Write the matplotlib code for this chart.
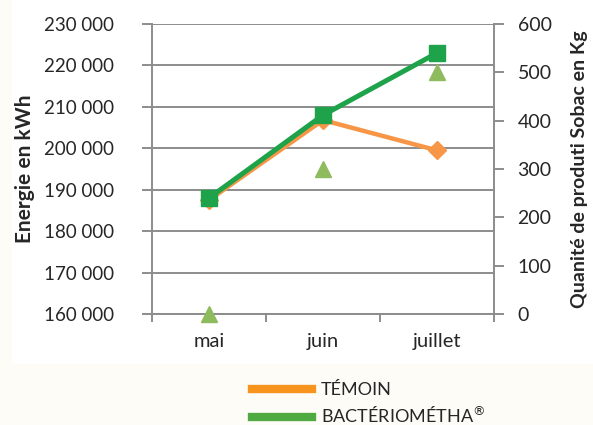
import matplotlib
matplotlib.use("Agg")
import matplotlib.pyplot as plt
from matplotlib.lines import Line2D
from matplotlib.patches import Rectangle
from matplotlib.ticker import FuncFormatter, FixedLocator

plt.rcParams['font.family'] = ['Lato', 'DejaVu Sans']

months = ["mai", "juin", "juillet"]
temoin = [187500, 206800, 199500]
bacterio = [188000, 208000, 223000]
sobac = [0, 300, 500]
left_ticks = [160000, 170000, 180000, 190000, 200000, 210000, 220000, 230000]
right_ticks = [0, 100, 200, 300, 400, 500, 600]

W, H = 593, 425
fig = plt.figure(figsize=(W / 100, H / 100), dpi=100)
fig.patch.set_facecolor('#FEFCF7')
fig.add_artist(Rectangle((12 / W, 1 - 364 / H), 1 - 12 / W, 364 / H,
                         transform=fig.transFigure, facecolor='white',
                         edgecolor='none', zorder=0))

ax = fig.add_axes([152 / W, 1 - 314 / H, (494 - 152) / W, (314 - 24) / H])
ax.set_facecolor('none')
ax2 = ax.twinx()

grid_c = '#8C8C8C'
text_c = '#262626'
x = list(range(len(months)))

ax.set_ylim(160000, 230000)
ax.set_xlim(-0.5, 2.5)
ax.set_yticks(left_ticks)
ax.yaxis.set_major_formatter(FuncFormatter(lambda v, p: f"{int(v):,}".replace(",", " ")))
ax.grid(axis='y', color=grid_c, linewidth=1.4, zorder=0)
ax.set_axisbelow(True)

ax.plot(x, temoin, color='#F79646', linewidth=3.2, marker='D', markersize=9,
        zorder=3, clip_on=False)
ax.plot(x, bacterio, color='#1FA34A', linewidth=3.6, marker='s', markersize=11,
        zorder=4, clip_on=False)

ax2.set_ylim(0, 600)
ax2.set_yticks(right_ticks)
ax2.plot(x, sobac, linestyle='none', marker='^', markersize=12,
         color='#8DBB5D', zorder=5, clip_on=False)

ax.set_xticks(x)
ax.set_xticklabels(months)
ax.xaxis.set_minor_locator(FixedLocator([-0.5, 0.5, 1.5, 2.5]))
ax.tick_params(axis='x', which='major', length=0, pad=14, labelsize=14.5, labelcolor=text_c)
ax.tick_params(axis='x', which='minor', length=6, width=1.4, color=grid_c, direction='out')
ax.tick_params(axis='y', length=7, width=1.4, color=grid_c, labelsize=13.5,
               labelcolor=text_c, pad=20)
ax2.tick_params(axis='y', length=7, width=1.4, color=grid_c, labelsize=14,
                labelcolor=text_c, pad=10)

for a in (ax, ax2):
    for s in a.spines.values():
        s.set_visible(False)
ax.spines['left'].set_visible(True)
ax.spines['left'].set_color(grid_c)
ax.spines['left'].set_linewidth(1.4)
ax.spines['bottom'].set_visible(True)
ax.spines['bottom'].set_color(grid_c)
ax.spines['bottom'].set_linewidth(1.4)
ax2.spines['right'].set_visible(True)
ax2.spines['right'].set_color(grid_c)
ax2.spines['right'].set_linewidth(1.4)

ax.set_ylabel("Energie en kWh", fontsize=15, fontweight='bold', color=text_c)
ax.yaxis.set_label_coords((35 - 152) / 342, 0.5)
ax2.set_ylabel("Quanité de produti Sobac en Kg", fontsize=14, fontweight='bold',
               color=text_c)
ax2.yaxis.set_label_coords((571 - 152) / 342, 0.5)

handles = [Line2D([], [], color='#F7941D', linewidth=6),
           Line2D([], [], color='#4FAA42', linewidth=6)]
fig.legend(handles, ["TÉMOIN", "BACTÉRIOMÉTHA$^{®}$"], loc='upper left',
           bbox_to_anchor=(245 / W, 1 - 375 / H), frameon=False,
           fontsize=13, handlelength=3.3, handletextpad=0.5,
           labelspacing=0.4, labelcolor=text_c, borderaxespad=0)

fig.savefig("out.png", dpi=100, facecolor=fig.get_facecolor())
